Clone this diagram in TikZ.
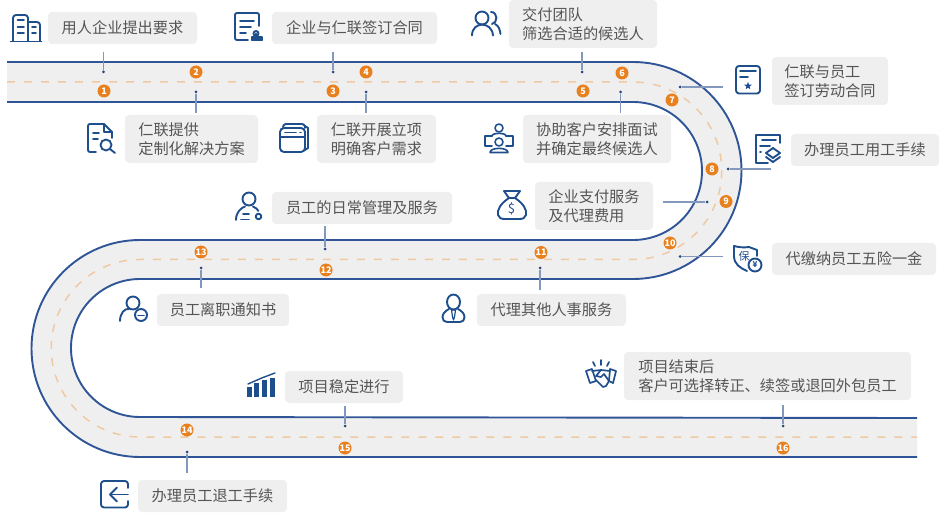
\documentclass[tikz,border=0pt]{standalone}
\usepackage{fontspec}
\setmainfont{Noto Sans CJK SC}
\usetikzlibrary{positioning}
\usetikzlibrary{shapes.geometric}

\definecolor{roadblue}{HTML}{2F5597}
\definecolor{roadgray}{HTML}{EFEFF0}
\definecolor{roaddash}{HTML}{EFC9A2}
\definecolor{markorange}{HTML}{E8801E}
\definecolor{boxgray}{HTML}{EFEFEF}
\definecolor{boxtext}{HTML}{555555}
\definecolor{linkblue}{HTML}{8298BC}
\definecolor{iconblue}{HTML}{1F4E8C}

\tikzset{
  labelbox/.style={fill=boxgray,rounded corners=4pt,text=boxtext,align=left,inner sep=0pt,
    font=\fontsize{15.2}{19}\selectfont},
  stepmark/.style={circle,fill=markorange,text=white,inner sep=0pt,minimum size=13pt,
    font=\fontsize{9}{9}\selectfont\bfseries},
  link/.style={linkblue,line width=1.3pt},
  enddot/.style={circle,fill=roadblue!80!black,inner sep=0pt,minimum size=3pt},
  icon/.style={iconblue,line width=1.9pt,line join=round,line cap=round},
}

\begin{document}
\begin{tikzpicture}[x=1pt,y=-1pt]

\useasboundingbox (0,0) rectangle (947,526);

% road surface
\fill[roadgray] (7,62) -- (633,62) arc (-90:90:108.5) -- (140,279) arc (270:90:69) -- (917,418)
  -- (917,457) -- (140,457) arc (90:270:108.5) -- (633,240) arc (90:-90:69) -- (7,102) -- cycle;

% road edges
\draw[roadblue,line width=1.9pt] (7,62) -- (633,62) arc (-90:90:108.5) -- (140,279) arc (270:90:69) -- (917,418);
\draw[roadblue,line width=1.9pt] (7,102) -- (633,102) arc (-90:90:69) -- (140,240) arc (270:90:108.5) -- (917,457);

% middle dashes
\draw[roaddash,line width=1.5pt,dash pattern=on 8pt off 9pt] (7,82) -- (633,82) arc (-90:90:88.75) -- (140,259.5) arc (270:90:88.75) -- (917,437);

% text boxes
\node[labelbox,minimum width=149pt,minimum height=32pt] (boxa) at (122.5,28) {用人企业提出要求};
\node[labelbox,minimum width=133pt,minimum height=48pt] (boxb) at (191.5,139) {仁联提供\\定制化解决方案};
\node[labelbox,minimum width=165pt,minimum height=32pt] (boxc) at (354.5,28) {企业与仁联签订合同};
\node[labelbox,minimum width=119pt,minimum height=48pt] (boxd) at (376.5,139) {仁联开展立项\\明确客户需求};
\node[labelbox,minimum width=148pt,minimum height=48pt] (boxe) at (583,24) {交付团队\\筛选合适的候选人};
\node[labelbox,minimum width=148pt,minimum height=48pt] (boxf) at (597,139) {协助客户安排面试\\并确定最终候选人};
\node[labelbox,minimum width=116pt,minimum height=48pt] (boxg) at (830,81) {仁联与员工\\签订劳动合同};
\node[labelbox,minimum width=148pt,minimum height=32pt] (boxh) at (865,150) {办理员工用工手续};
\node[labelbox,minimum width=118pt,minimum height=48pt] (boxi) at (594,206) {企业支付服务\\及代理费用};
\node[labelbox,minimum width=164pt,minimum height=32pt] (boxj) at (854,259) {代缴纳员工五险一金};
\node[labelbox,minimum width=149pt,minimum height=32pt] (boxk) at (551.5,310) {代理其他人事服务};
\node[labelbox,minimum width=180pt,minimum height=32pt] (boxl) at (362,208) {员工的日常管理及服务};
\node[labelbox,minimum width=132pt,minimum height=32pt] (boxm) at (223,310) {员工离职通知书};
\node[labelbox,minimum width=149pt,minimum height=32pt] (boxn) at (212.5,496) {办理员工退工手续};
\node[labelbox,minimum width=118pt,minimum height=32pt] (boxo) at (344,387) {项目稳定进行};
\node[labelbox,minimum width=287pt,minimum height=48pt] (boxp) at (767.5,376) {项目结束后\\客户可选择转正、续签或退回外包员工};

% connectors
\foreach \name/\px/\py/\qx/\qy in {a/103.5/52/103.5/72, b/196/113/196/92, c/333/52/333/72, d/366/113/366/92,
    e/582/52/582/72, f/620.5/113/620.5/92, g/723/87/680/87, h/771/169/728/169, i/663/202/707/202,
    j/723/256.5/680/256.5, k/540/290/540/268, l/325/226/325/249, m/201/288/201/268,
    n/187/473/187/452, o/345/406/345/426, p/783/405/783/426} {
  \coordinate (from\name) at (\px,\py);
  \node[enddot] (dot\name) at (\qx,\qy) {};
  \draw[link] (from\name) -- (dot\name);
}

% step marks
\foreach \n/\px/\py in {1/104/91, 2/196/72, 3/333/91, 4/366/72, 5/583/91, 6/622/73, 7/672/100, 8/712/169,
    9/726/201.5, 10/670/243, 11/541/252.5, 12/326/270, 13/201/252, 14/187/430, 15/345/448, 16/783/448}
  \node[stepmark] (mark\n) at (\px,\py) {\n};

% building
\begin{scope}[icon]
\draw (13,41) -- (13,18) arc (180:270:3) -- (25,15) arc (270:360:3) -- (28,41);
\draw (28,22) -- (37,22) arc (270:360:3) -- (40,41);
\draw (10.5,41.5) -- (41.5,41.5);
\foreach \y in {20,27,33} \draw (17.5,\y) -- (24,\y);
\foreach \y in {27,33} \draw (32,\y) -- (36,\y);
\end{scope}

% document and stamp
\begin{scope}[icon]
\draw (248,40) -- (237,40) arc (90:180:2) -- (235,15) arc (180:270:2) -- (257,13) arc (270:360:2) -- (259,26);
\draw (240,21) -- (254,21);
\draw (240,27) -- (251,27);
\draw (240,33) -- (246,33);
\draw[fill=iconblue] (252,40.5) rectangle (262,37);
\draw (256,36) -- (256,33.5) circle (2.5);
\end{scope}

% two people
\begin{scope}[icon]
\draw (482,18) circle (6.5);
\draw (472,35.5) .. controls (472,21) and (492,21) .. (493,35.5);
\draw (491,12) .. controls (498,12) and (498,23) .. (492,24);
\draw (495,24) .. controls (499,26) and (500,30) .. (500.5,34);
\end{scope}

% document and lens
\begin{scope}[icon]
\draw (96,152) -- (90,152) arc (90:180:2) -- (88,126) arc (180:270:2) -- (104,124) -- (112,132) -- (112,138);
\draw (104,124) -- (104,132) -- (112,132);
\draw (93,133) -- (99,133);
\draw (93,139) -- (98,139);
\draw (106,145) circle (5.5);
\draw (110,149) -- (115,153);
\end{scope}

% stacked windows
\begin{scope}[icon]
\draw (283,127) arc (180:270:3) -- (302,124) arc (270:360:3) -- (305,128);
\draw[rounded corners=4pt] (280,128) rectangle (305,152);
\draw (280,137) -- (305,137);
\draw (285,132.5) -- (296,132.5);
\draw (300,132.5) -- (301,132.5);
\draw (305,126) -- (308,128) -- (308,148) -- (305,150);
\end{scope}

% document and star
\begin{scope}[icon]
\draw[rounded corners=3pt] (736,66) rectangle (760,93.5);
\draw (740,71) -- (756,71);
\draw (740,77) -- (748,77);
\node[star,star points=5,star point ratio=2.3,fill=iconblue,inner sep=0pt,minimum size=8pt] (starf) at (748,86) {};
\end{scope}

% document and layers
\begin{scope}[icon]
\draw (757,163) -- (756,163) -- (756,135) -- (780,135) -- (780,143);
\draw (762,140) -- (776,140);
\draw (760,146) -- (770,146);
\draw (760,152) -- (761,152);
\draw (773,148) -- (766,153) -- (773,158) -- (780,153) -- cycle;
\draw (766,157) -- (773,162) -- (780,157);
\draw (757,163) -- (768,163);
\end{scope}

% two people at screens
\begin{scope}[icon,line width=1.6pt]
\draw (492,136) -- (485,136) -- (485,146) -- (492,146);
\draw (506,136) -- (513,136) -- (513,146) -- (506,146);
\draw (499,128) circle (4);
\draw (492,136) .. controls (492,132.5) and (506,132.5) .. (506,136);
\draw (499,142) circle (4);
\draw (490,152.5) .. controls (490,147) and (508,147) .. (508,152.5) -- cycle;
\end{scope}

% money bag
\begin{scope}[icon]
\draw (504,191) -- (520,191) -- (515,198) -- (509,198) -- cycle;
\draw (509,198) .. controls (500,204) and (497,210) .. (498,215) .. controls (499,218) and (501,219) .. (505,219)
  -- (519,219) .. controls (523,219) and (525,218) .. (526,215) .. controls (527,210) and (524,204) .. (515,198);
\node[iconblue,inner sep=0pt,font=\fontsize{13}{13}\selectfont] (bagsign) at (511.5,209) {\$};
\end{scope}

% shield
\begin{scope}[icon]
\draw (749,247) .. controls (743,248) and (738,247) .. (734,246) -- (734,256) .. controls (734,264) and (740,268) .. (747,271);
\draw (749,247) -- (757,250) -- (757,256);
\node[iconblue,inner sep=0pt,font=\fontsize{11}{11}\selectfont] (shieldtext) at (744,256) {保};
\draw (755,265) circle (6.5);
\node[iconblue,inner sep=0pt,font=\fontsize{8}{8}\selectfont\bfseries] (shieldyen) at (755,265) {¥};
\end{scope}

% person and tie
\begin{scope}[icon]
\draw (453.5,302) ellipse (6.5 and 7.5);
\draw (449,309) .. controls (445,311) and (442.5,314) .. (442.5,317) .. controls (442.5,320) and (444,322) .. (447,322)
  -- (460,322) .. controls (463,322) and (464.5,320) .. (464.5,317) .. controls (464.5,314) and (462,311) .. (458,309);
\draw[line width=1.2pt] (451.5,310) -- (455.5,310) -- (454.5,317) -- (453.5,320) -- (452.5,317) -- cycle;
\end{scope}

% person and gear
\begin{scope}[icon]
\draw (249,199) circle (6.5);
\draw (236,220) .. controls (236,212) and (241,208) .. (245,206.5);
\draw (253,206.5) .. controls (255.5,207.5) and (257,209) .. (258.5,211);
\draw (243,214) -- (249,214);
\draw (241,219.5) -- (249,219.5);
\draw (258.5,216.5) circle (2.8);
\end{scope}

% person and minus
\begin{scope}[icon]
\draw (133,303) circle (6.5);
\draw (120,321) .. controls (120,313) and (125,308) .. (129,309);
\draw (141,315) circle (6);
\draw (138,315.5) -- (144,315.5);
\end{scope}

% rising bars
\begin{scope}[icon]
\foreach \px/\py in {249.5/387, 256.5/383, 264/380, 272.5/378}
  \fill[iconblue] (\px-2.5,\py) rectangle (\px+2.5,396.5);
\draw[line width=1.4pt] (248,384) -- (263,377.5) -- (275,373);
\end{scope}

% exit
\begin{scope}[icon]
\draw[rounded corners=3pt] (128,488) -- (128,481) -- (101,481) -- (101,507.5) -- (128,507.5) -- (128,501);
\draw (128,494.5) -- (110,494.5);
\draw (117,487.5) -- (110,494.5) -- (117,501.5);
\end{scope}

% handshake
\begin{scope}[icon,line width=1.7pt]
\draw (586,371) -- (592,369) -- (596,381) -- (590,383) -- cycle;
\draw (610,369) -- (616,371) -- (613,383) -- (609,381) -- cycle;
\draw (592,371) -- (601,370) -- (610,371);
\draw (596,380) -- (603,387) -- (606,386) -- (609,381);
\draw (601,370) -- (596,376) -- (601,377) -- (604,374) -- (609,381);
\foreach \px/\py/\qx/\qy in {601/360/601/365, 593/362/595/366, 609/362/607/366}
  \draw (\px,\py) -- (\qx,\qy);
\end{scope}

\end{tikzpicture}
\end{document}
